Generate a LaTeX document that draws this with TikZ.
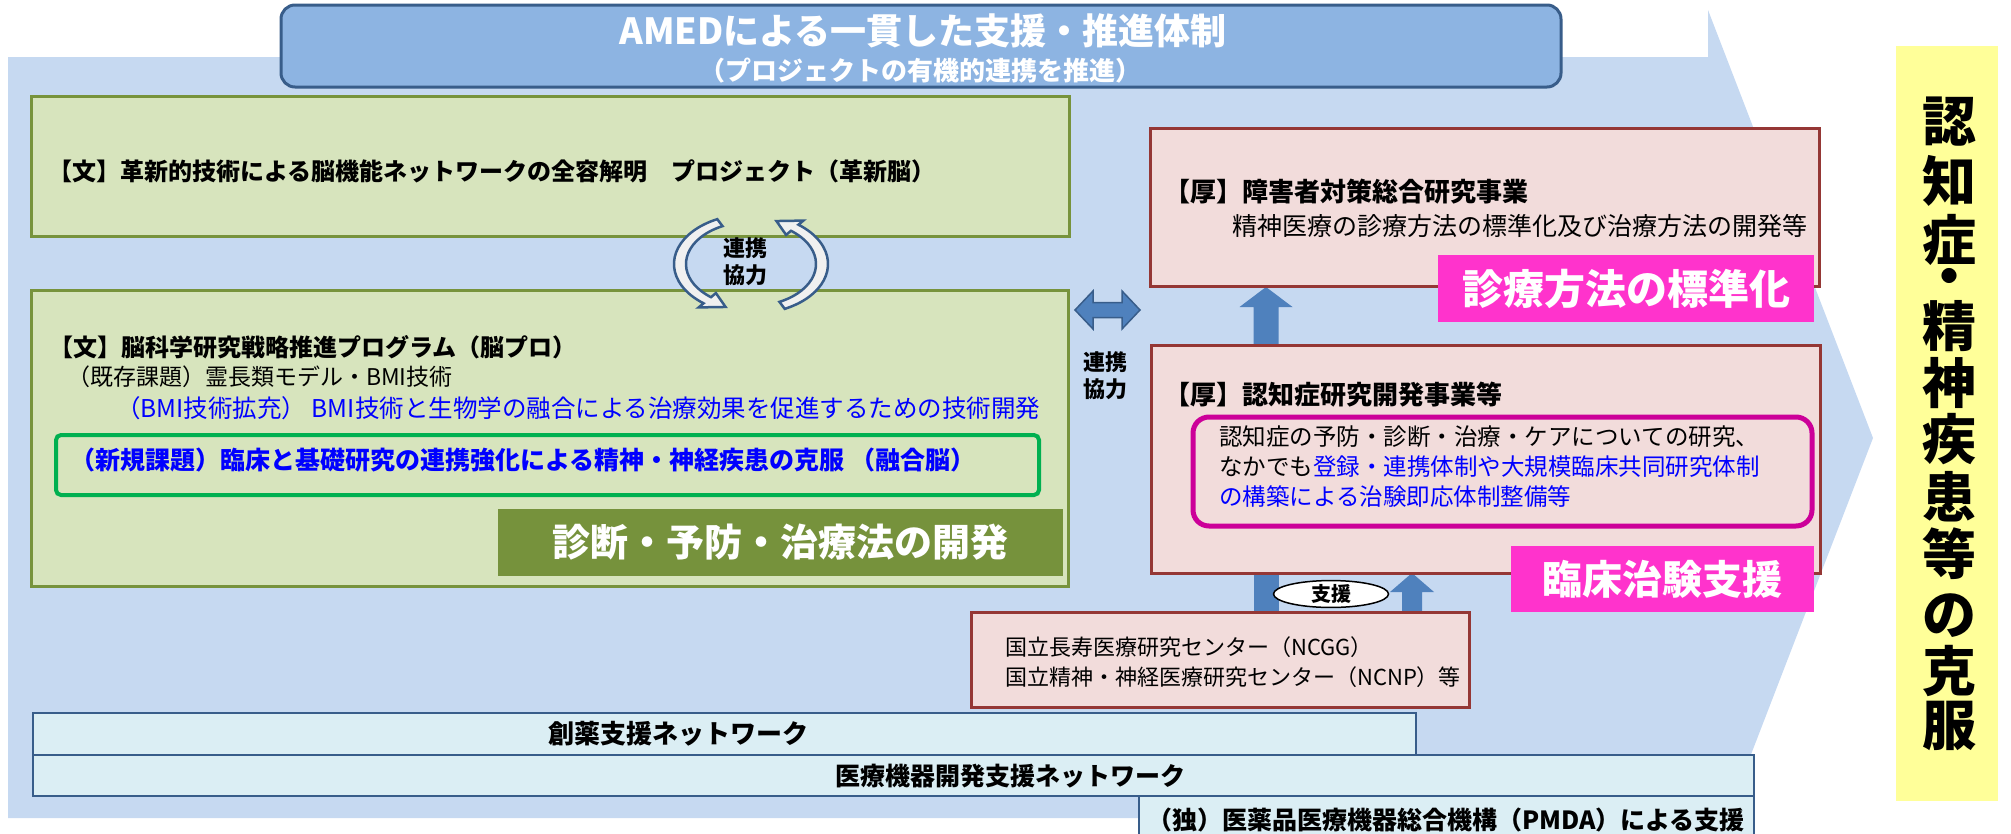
\documentclass[tikz,border=0pt]{standalone}
\usepackage{fontspec}
\setmainfont{Noto Sans CJK JP}
\usetikzlibrary{shapes.geometric}
\definecolor{bgblue}{HTML}{C6D9F1}
\definecolor{amedfill}{HTML}{8DB4E2}
\definecolor{navyline}{HTML}{385D8A}
\definecolor{greenfill}{HTML}{D7E4BD}
\definecolor{oliveline}{HTML}{77933C}
\definecolor{olivelabel}{HTML}{76923C}
\definecolor{brightgreen}{HTML}{00B050}
\definecolor{pinkfill}{HTML}{F2DCDB}
\definecolor{redline}{HTML}{953735}
\definecolor{magentalabel}{HTML}{FF33CC}
\definecolor{magentaline}{HTML}{CC0099}
\definecolor{arrowblue}{HTML}{4F81BD}
\definecolor{cyanfill}{HTML}{DBEEF4}
\definecolor{yellowfill}{HTML}{FFFF99}
\definecolor{textblue}{HTML}{0000FF}
\newcommand\myfs[1]{\fontsize{#1pt}{#1pt}\selectfont}
\begin{document}
\begin{tikzpicture}[x=1pt,y=-1pt,
  rbox/.style={anchor=north west, inner sep=0pt, outer sep=0pt},
  gbox/.style={rbox, draw=oliveline, fill=greenfill, line width=3pt},
  pbox/.style={rbox, draw=redline, fill=pinkfill, line width=3pt},
  nbox/.style={rbox, draw=navyline, fill=cyanfill, line width=2pt},
  lbl/.style={rbox, text=white, font=\bfseries},
  txt/.style={inner sep=0pt, anchor=west},
  ctxt/.style={inner sep=0pt, anchor=center},
  circarrow/.style={draw=navyline, line width=2.5pt, fill=gray!12},
]
\useasboundingbox (0,0) rectangle (2011,833);
\clip (0,0) rectangle (2011,833);

% background chevron
\fill[bgblue] (8,57) -- (1708,57) -- (1708,10) -- (1873,438) -- (1708,866) -- (1708,818) -- (8,818) -- cycle;

% AMED header
\node[rbox, draw=navyline, fill=amedfill, line width=3pt, rounded corners=14pt,
      minimum width=1280pt, minimum height=82pt] (amed) at (281,5) {};
\node[ctxt, text=white, font=\bfseries\myfs{36}] (amed1) at (923,31) {AMEDによる一貫した支援・推進体制};
\node[ctxt, text=white, font=\bfseries\myfs{26}] (amed2) at (920,71) {（プロジェクトの有機的連携を推進）};

% block arrows (drawn under the boxes)
\coordinate (upA) at (1266,287);
\fill[arrowblue] (1253.5,345) -- (1253.5,307) -- (1239.5,307) -- (upA) -- (1292.5,307) -- (1278.5,307) -- (1278.5,345) -- cycle;
\fill[arrowblue] (1253.5,572) rectangle (1278.5,613);
\coordinate (upB) at (1412,573);
\fill[arrowblue] (1402,613) -- (1402,592) -- (1390,592) -- (upB) -- (1434,592) -- (1422,592) -- (1422,613) -- cycle;

% green boxes (MEXT)
\node[gbox, minimum width=1038pt, minimum height=140pt] (kakushin) at (31,96) {};
\node[txt, font=\bfseries\myfs{24}] (tkak) at (48,171) {【文】革新的技術による脳機能ネットワークの全容解明　プロジェクト（革新脳）};

\node[gbox, minimum width=1037pt, minimum height=296pt] (noupro) at (31,290) {};
\node[txt, font=\bfseries\myfs{24}] (tnp1) at (49,347) {【文】脳科学研究戦略推進プログラム（脳プロ）};
\node[txt, font=\myfs{23}] (tnp2) at (67,377) {（既存課題）霊長類モデル・BMI技術};
\node[txt, text=textblue, font=\myfs{24.5}] (tnp3) at (116,408) {（BMI技術拡充） BMI技術と生物学の融合による治療効果を促進するための技術開発};
\node[rbox, draw=brightgreen, line width=4pt, rounded corners=5pt,
      minimum width=983pt, minimum height=60pt] (yugo) at (56,435) {};
\node[txt, text=textblue, font=\bfseries\myfs{25}] (tyugo) at (70,460) {（新規課題）臨床と基礎研究の連携強化による精神・神経疾患の克服 （融合脳）};
\node[lbl, fill=olivelabel, minimum width=565pt, minimum height=67pt, font=\bfseries\myfs{38}] (kaihatsu) at (498,509) {診断・予防・治療法の開発};

% circular arrows
\begin{scope}[shift={(751,264)}, yscale=0.648]
  \draw[circarrow] (116:77pt) arc[start angle=116, end angle=232, radius=77pt]
     -- (232:85pt) -- (249:71pt) -- (232:57pt) -- (232:65pt)
     arc[start angle=232, end angle=116, radius=65pt] -- cycle;
  \draw[circarrow] (-64:77pt) arc[start angle=-64, end angle=52, radius=77pt]
     -- (52:85pt) -- (69:71pt) -- (52:57pt) -- (52:65pt)
     arc[start angle=52, end angle=-64, radius=65pt] -- cycle;
\end{scope}
\node[ctxt, align=center, font=\bfseries\myfs{22}] (renkeiA) at (745,262) {連携\\[5pt]協力};

% double arrow
\coordinate (daL) at (1075,310);
\coordinate (daR) at (1140,310);
\draw[navyline, fill=arrowblue, line width=1.5pt, line join=miter]
  (daL) -- (1093,291) -- (1093,302.5) -- (1122,302.5) -- (1122,291) -- (daR)
  -- (1122,329) -- (1122,317.5) -- (1093,317.5) -- (1093,329) -- cycle;
\node[ctxt, align=center, font=\bfseries\myfs{22}] (renkeiB) at (1105,376) {連携\\[5pt]協力};

% pink boxes (MHLW)
\node[pbox, minimum width=669pt, minimum height=158pt] (shogai) at (1150,128) {};
\node[txt, font=\bfseries\myfs{26}] (tsh1) at (1164,192) {【厚】障害者対策総合研究事業};
\node[txt, font=\myfs{25}] (tsh2) at (1232,226) {精神医療の診療方法の標準化及び治療方法の開発等};
\node[lbl, fill=magentalabel, minimum width=376pt, minimum height=67pt, font=\bfseries\myfs{41}] (hyojun) at (1438,255) {診療方法の標準化};

\node[pbox, minimum width=669pt, minimum height=228pt] (ninchi) at (1151,345) {};
\node[txt, font=\bfseries\myfs{26}] (tni) at (1164,395) {【厚】認知症研究開発事業等};
\node[rbox, draw=magentaline, line width=5pt, rounded corners=16pt,
      minimum width=619pt, minimum height=109pt] (kenkyu) at (1193,417) {};
\node[txt, font=\myfs{23.5}] (tk1) at (1219,437) {認知症の予防・診断・治療・ケアについての研究、};
\node[txt, font=\myfs{23.5}] (tk2) at (1219,467) {なかでも\textcolor{textblue}{登録・連携体制や大規模臨床共同研究体制}};
\node[txt, text=textblue, font=\myfs{23.5}] (tk3) at (1219,497) {の構築による治験即応体制整備等};
\node[lbl, fill=magentalabel, minimum width=303pt, minimum height=66pt, font=\bfseries\myfs{40}] (chiken) at (1511,546) {臨床治験支援};

% support ellipse
\node[ellipse, draw=black, fill=white, line width=1.5pt, minimum width=115pt, minimum height=25pt,
      inner sep=0pt, font=\bfseries\myfs{20}] (shien) at (1331,594) {支援};

% national centers
\node[pbox, minimum width=498pt, minimum height=95pt] (ncgg) at (971,612) {};
\node[txt, font=\myfs{22}] (tnc1) at (1005,647) {国立長寿医療研究センター（NCGG）};
\node[txt, font=\myfs{22}] (tnc2) at (1005,677) {国立精神・神経医療研究センター（NCNP）等};

% bottom networks
\node[nbox, minimum width=1383pt, minimum height=42pt] (soyaku) at (33,713) {};
\node[ctxt, font=\bfseries\myfs{26}] (tsoyaku) at (678,734) {創薬支援ネットワーク};
\node[nbox, minimum width=1721pt, minimum height=41pt] (iryoki) at (33,755) {};
\node[ctxt, font=\bfseries\myfs{25}] (tiryoki) at (1010,776) {医療機器開発支援ネットワーク};
\node[nbox, minimum width=615pt, minimum height=49pt] (pmda) at (1139,796) {};
\node[ctxt, font=\bfseries\myfs{25}] (tpmda) at (1446,820) {（独）医薬品医療機器総合機構（PMDA）による支援};

% goal (vertical text)
\node[rbox, fill=yellowfill, minimum width=102pt, minimum height=755pt] (goal) at (1896,46) {};
\foreach \ch/\yy in {認/122, 知/181, 症/240, ・/282, 精/326, 神/383, 疾/439, 患/497, 等/554, の/616, 克/671, 服/726}
  \node[ctxt, font=\bfseries\myfs{54}] (g\yy) at (1949,\yy) {\ch};
\end{tikzpicture}
\end{document}
